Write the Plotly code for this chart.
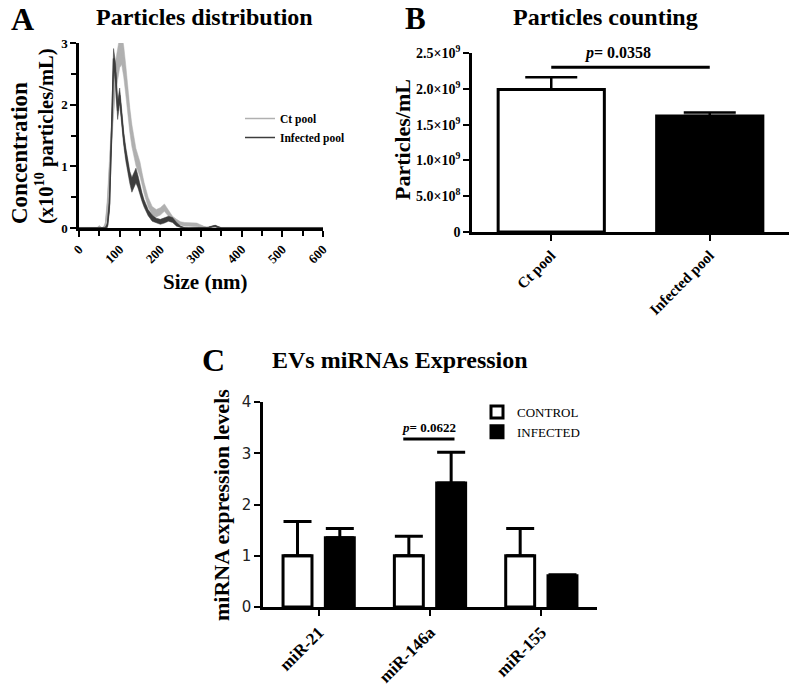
import plotly.graph_objects as go

# page body has an 8px margin, so the figure is drawn 8px in from the top-left
OFF = 8
W, H = 797 - OFF, 686 - OFF
SERIF = "Liberation Serif"

# ---------------- Panel A data: NTA size distribution ----------------
sizes = [0, 40, 45, 50, 55, 60, 65, 70, 75, 80,
         85, 90, 95, 100, 105, 110, 115, 120, 125, 130,
         135, 140, 145, 150, 155, 160, 170, 180, 190, 200,
         210, 220, 230, 240, 250, 260, 270, 280, 290, 300,
         310, 320, 330, 335, 340, 350, 400, 500, 600]
ct_mean = [0, 0, 0, 0.02, 0, 0, 0.05, 0.35, 0.95, 1.6,
           2.1, 2.45, 2.7, 2.85, 2.9, 2.7, 2.4, 2.05, 1.75, 1.5,
           1.3, 1.15, 1.05, 0.95, 0.8, 0.65, 0.42, 0.28, 0.24, 0.27,
           0.33, 0.24, 0.15, 0.1, 0.07, 0.06, 0.06, 0.06, 0.05, 0.03,
           0.01, 0, 0, 0, 0, 0, 0, 0, 0]
ct_err = [0.01, 0.01, 0.01, 0.02, 0.01, 0.01, 0.04, 0.15, 0.22, 0.26,
          0.26, 0.26, 0.26, 0.25, 0.25, 0.25, 0.24, 0.22, 0.2, 0.18,
          0.16, 0.14, 0.13, 0.12, 0.1, 0.09, 0.08, 0.07, 0.06, 0.06,
          0.06, 0.05, 0.04, 0.04, 0.03, 0.03, 0.03, 0.03, 0.03, 0.02,
          0.01, 0.01, 0.01, 0.01, 0.01, 0.01, 0.01, 0.01, 0.01]
inf_mean = [0, 0, 0, 0, 0, 0, 0, 0.05, 0.4, 1.5,
            2.75, 2.5, 1.9, 2.15, 1.75, 1.45, 1.2, 0.98, 0.82, 0.7,
            0.78, 0.85, 0.75, 0.6, 0.5, 0.4, 0.25, 0.16, 0.12, 0.1,
            0.12, 0.15, 0.13, 0.06, 0.02, 0, 0, 0, 0, 0,
            0, 0.01, 0.03, 0.035, 0.02, 0, 0, 0, 0]
inf_err = [0, 0, 0, 0, 0, 0, 0, 0.04, 0.12, 0.16,
           0.16, 0.16, 0.14, 0.12, 0.12, 0.11, 0.11, 0.1, 0.1, 0.12,
           0.12, 0.12, 0.1, 0.08, 0.07, 0.06, 0.05, 0.05, 0.04, 0.04,
           0.04, 0.04, 0.04, 0.03, 0.01, 0, 0, 0, 0, 0,
           0, 0.01, 0.01, 0.01, 0.01, 0, 0, 0, 0]
size_ticks = [0, 100, 200, 300, 400, 500, 600]
conc_ticks = [0, 1, 2, 3]

# ---------------- Panel B data: particle counts ----------------
pools = ["Ct pool", "Infected pool"]
counts = [1.99e9, 1.62e9]
counts_err = [0.17e9, 0.05e9]
count_ticks = [0, 5e8, 1e9, 1.5e9, 2e9, 2.5e9]
count_ticktext = ["0", "5.0×10<sup>8</sup>", "1.0×10<sup>9</sup>", "1.5×10<sup>9</sup>",
                  "2.0×10<sup>9</sup>", "2.5×10<sup>9</sup>"]
p_counts = "<i>p</i>= 0.0358"
sig_y_counts = 2.3e9

# ---------------- Panel C data: miRNA expression ----------------
mirnas = ["miR-21", "miR-146a", "miR-155"]
control = [1.0, 1.0, 1.0]
control_err = [0.67, 0.38, 0.53]
infected = [1.35, 2.42, 0.61]
infected_err = [0.18, 0.6, 0.02]
expr_ticks = [0, 1, 2, 3, 4]
p_mirna = "<i>p</i>= 0.0622"
sig_y_mirna = 3.28


def px(x):
    return (x - OFF) / W


def py(y):
    return 1 - (y - OFF) / H


fig = go.Figure()

LIGHT = "#b0b0b0"
DARK = "#3d3d3d"


def band(mean, err, color, name):
    lo = [max(m - e, 0) for m, e in zip(mean, err)]
    hi = [m + e for m, e in zip(mean, err)]
    fig.add_trace(go.Scatter(x=sizes, y=lo, mode="lines", line=dict(width=0.5, color=color),
                             showlegend=False, hoverinfo="skip", xaxis="x", yaxis="y"))
    fig.add_trace(go.Scatter(x=sizes, y=hi, mode="lines", line=dict(width=0.5, color=color),
                             fill="tonexty", fillcolor=color,
                             showlegend=False, hoverinfo="skip", xaxis="x", yaxis="y"))
    fig.add_trace(go.Scatter(x=sizes, y=mean, mode="lines", line=dict(width=1.5, color=color),
                             name=name, legend="legend", xaxis="x", yaxis="y"))


band(ct_mean, ct_err, LIGHT, "Ct pool")
band(inf_mean, inf_err, DARK, "Infected pool")

# Panel B bars
fig.add_trace(go.Bar(x=pools, y=counts, width=0.67,
                     marker=dict(color=["white", "black"], line=dict(color="black", width=3)),
                     error_y=dict(type="data", array=counts_err, arrayminus=[0, 0], symmetric=False,
                                  color="black", thickness=2.5, width=26),
                     showlegend=False, xaxis="x2", yaxis="y2"))

# Panel C bars
fig.add_trace(go.Bar(x=mirnas, y=control, width=0.26, offset=-0.32, name="CONTROL",
                     marker=dict(color="white", line=dict(color="black", width=3)),
                     error_y=dict(type="data", array=control_err, arrayminus=[0, 0, 0], symmetric=False,
                                  color="black", thickness=3, width=14),
                     legend="legend2", xaxis="x3", yaxis="y3"))
fig.add_trace(go.Bar(x=mirnas, y=infected, width=0.26, offset=0.06, name="INFECTED",
                     marker=dict(color="black", line=dict(color="black", width=3)),
                     error_y=dict(type="data", array=infected_err, arrayminus=[0, 0, 0], symmetric=False,
                                  color="black", thickness=3, width=14),
                     legend="legend2", xaxis="x3", yaxis="y3"))

axis_common = dict(showline=True, linecolor="black", linewidth=2.5, ticks="outside",
                   tickcolor="black", tickwidth=2, ticklen=6, showgrid=False, zeroline=False,
                   automargin=False)

fig.update_layout(
    template="none",
    width=W, height=H, margin=dict(l=0, r=0, t=0, b=0, autoexpand=False),
    paper_bgcolor="white", plot_bgcolor="white",
    barmode="overlay",
    xaxis=dict(domain=[px(79), px(323)], range=[0, 600], tickvals=size_ticks, tickangle=-45,
               tickfont=dict(family=SERIF, size=13, color="black", weight="bold"),
               minor=dict(dtick=50, ticks="outside", ticklen=5, tickwidth=2, tickcolor="black"),
               anchor="y", **axis_common),
    yaxis=dict(domain=[py(228), py(43)], range=[0, 3], tickvals=conc_ticks,
               tickfont=dict(family=SERIF, size=13, color="black", weight="bold"),
               minor=dict(dtick=0.5, ticks="outside", ticklen=5, tickwidth=2, tickcolor="black"),
               anchor="x", **axis_common),
    xaxis2=dict(domain=[px(472), px(789)], range=[-0.5, 1.5], type="category", tickangle=-45,
                tickfont=dict(family=SERIF, size=15, color="black", weight="bold"),
                anchor="y2", **axis_common),
    yaxis2=dict(domain=[py(232), py(53)], range=[0, 2.5e9], tickvals=count_ticks, ticktext=count_ticktext,
                tickfont=dict(family=SERIF, size=14, color="black", weight="bold"),
                anchor="x2", **axis_common),
    xaxis3=dict(domain=[px(263), px(597)], range=[-0.5, 2.5], type="category", tickangle=-45,
                tickfont=dict(family=SERIF, size=17, color="black", weight="bold"),
                anchor="y3", **axis_common),
    yaxis3=dict(domain=[py(607), py(402)], range=[0, 4], tickvals=expr_ticks,
                tickfont=dict(family="DejaVu Sans", size=15, color="#222"),
                anchor="x3", **axis_common),
    legend=dict(x=px(240), y=py(104), xanchor="left", yanchor="top", bgcolor="rgba(0,0,0,0)",
                font=dict(family=SERIF, size=11.5, color="black", weight="bold"),
                itemwidth=30, tracegroupgap=0, traceorder="normal"),
    legend2=dict(x=px(477), y=py(397), xanchor="left", yanchor="top", bgcolor="rgba(0,0,0,0)",
                 font=dict(family=SERIF, size=13, color="black"), tracegroupgap=0,
                 traceorder="normal"),
)

# significance lines
fig.add_shape(type="line", xref="x2", yref="y2", x0=0, x1=1, y0=sig_y_counts, y1=sig_y_counts,
              line=dict(color="black", width=3))
fig.add_shape(type="line", xref="x3", yref="y3", x0=0.76, x1=1.22, y0=sig_y_mirna, y1=sig_y_mirna,
              line=dict(color="black", width=3))


def txt(text, x, y, size, bold=True, angle=0, family=SERIF):
    fig.add_annotation(text=text, x=px(x), y=py(y), xref="paper", yref="paper", showarrow=False,
                       textangle=angle, xanchor="center", yanchor="middle",
                       font=dict(family=family, size=size, color="black",
                                 weight="bold" if bold else "normal"))


txt("A", 22, 19, 32)
txt("Particles distribution", 204, 17, 24)
txt("B", 415, 19, 31)
txt("Particles counting", 605, 17, 24)
txt("C", 214, 360, 32)
txt("EVs miRNAs Expression", 400, 360, 24)

txt("Concentration", 20, 153, 23, angle=-90)
txt("(x10<sup>10</sup> particles/mL)", 45, 137, 20.5, angle=-90)
txt("Size (nm)", 205, 282, 21)
txt("Particles/mL", 403, 140, 22, angle=-90)
txt("miRNA expression levels", 222, 505, 22, angle=-90)

fig.add_annotation(text=p_counts, x=0.42, y=sig_y_counts, xref="x2", yref="y2", showarrow=False,
                   yanchor="bottom", yshift=3, font=dict(family=SERIF, size=16, color="black", weight="bold"))
fig.add_annotation(text=p_mirna, x=0.99, y=sig_y_mirna, xref="x3", yref="y3", showarrow=False,
                   yanchor="bottom", yshift=2, font=dict(family=SERIF, size=13, color="black", weight="bold"))

fig.write_html("out.html")
